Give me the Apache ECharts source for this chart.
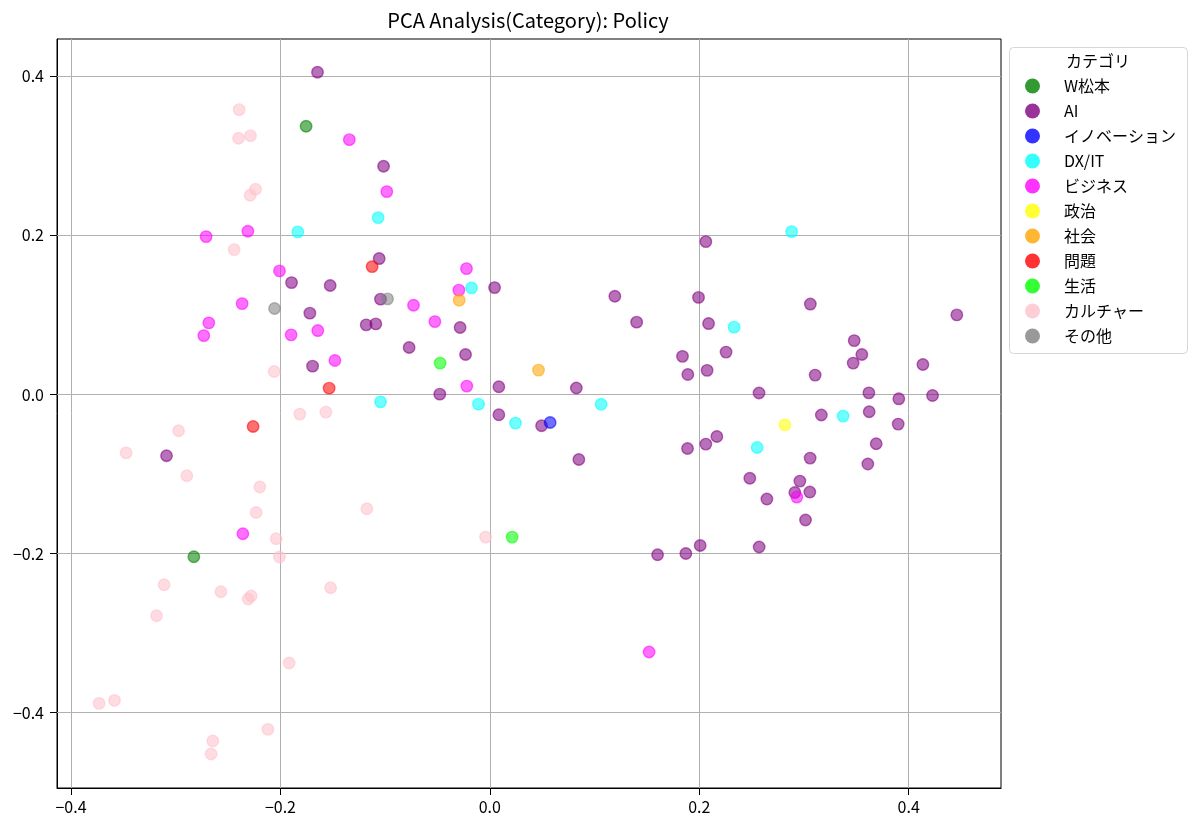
<!DOCTYPE html>
<html>
<head>
<meta charset="utf-8">
<title>PCA Analysis(Category): Policy</title>
<script src="https://cdn.jsdelivr.net/npm/echarts@6/dist/echarts.min.js"></script>
<style>
html, body { margin: 0; padding: 0; background: #fff; }
#chart { width: 1200px; height: 829px; }
</style>
</head>
<body>
<div id="chart"></div>
<script>
var categories = ['W松本', 'AI', 'イノベーション', 'DX/IT', 'ビジネス', '政治', '社会', '問題', '生活', 'カルチャー', 'その他'];
var colors = ['#008000', '#800080', '#0000ff', '#00ffff', '#ff00ff', '#ffff00', '#ffa500', '#ff0000', '#00ff00', '#ffc0cb', '#808080'];

// PC1, PC2 per category
var ptsMatsumoto = [[-0.1755, 0.3372], [-0.2827, -0.2039]];
var ptsAI = [
	[-0.1646, 0.4051], [-0.1894, 0.1407], [-0.1525, 0.1370], [-0.1015, 0.2870], [-0.1057, 0.1709],
	[-0.1719, 0.1023], [-0.1181, 0.0876], [-0.1089, 0.0888], [-0.1693, 0.0357], [-0.3088, -0.0770],
	[-0.1044, 0.1199], [0.0045, 0.1344], [0.1194, 0.1236], [-0.0284, 0.0842], [-0.0771, 0.0591],
	[-0.0232, 0.0503], [0.0086, 0.0097], [-0.0478, 0.0005], [0.0086, -0.0255], [0.0494, -0.0393],
	[0.0826, 0.0082], [0.1402, 0.0910], [0.0850, -0.0817], [0.1602, -0.2014], [0.2063, 0.1922],
	[0.1993, 0.1221], [0.2089, 0.0892], [0.3061, 0.1137], [0.1840, 0.0480], [0.2256, 0.0533],
	[0.1891, 0.0251], [0.2075, 0.0304], [0.2571, 0.0019], [0.4460, 0.1001], [0.3480, 0.0678],
	[0.3553, 0.0503], [0.3470, 0.0395], [0.3107, 0.0244], [0.4136, 0.0377], [0.3620, 0.0021],
	[0.3906, -0.0054], [0.4228, -0.0013], [0.3166, -0.0258], [0.3623, -0.0217], [0.3900, -0.0372],
	[0.3690, -0.0619], [0.1888, -0.0678], [0.2063, -0.0623], [0.2168, -0.0528], [0.3059, -0.0799],
	[0.3610, -0.0874], [0.2483, -0.1053], [0.2961, -0.1088], [0.2913, -0.1231], [0.3056, -0.1226],
	[0.2646, -0.1314], [0.3015, -0.1577], [0.2009, -0.1897], [0.1872, -0.1998], [0.2572, -0.1917]
];
var ptsInnovation = [[0.0576, -0.0352]];
var ptsDX = [
	[-0.1834, 0.2044], [-0.1067, 0.2224], [-0.0175, 0.1341], [-0.1044, -0.0092], [-0.0108, -0.0121],
	[0.0245, -0.0359], [0.1063, -0.0123], [0.2882, 0.2048], [0.2333, 0.0847], [0.3374, -0.0271],
	[0.2553, -0.0666]
];
var ptsBusiness = [
	[-0.1342, 0.3204], [-0.0984, 0.2551], [-0.2710, 0.1985], [-0.2311, 0.2053], [-0.2009, 0.1554],
	[-0.2366, 0.1143], [-0.2684, 0.0901], [-0.2732, 0.0741], [-0.1898, 0.0750], [-0.1643, 0.0804],
	[-0.1480, 0.0427], [-0.0223, 0.1583], [-0.0296, 0.1312], [-0.0729, 0.1123], [-0.0525, 0.0917],
	[-0.0220, 0.0106], [-0.2359, -0.1750], [0.2932, -0.1289], [0.1521, -0.3237]
];
var ptsPolitics = [[0.2818, -0.0381]];
var ptsSociety = [[-0.0293, 0.1186], [0.0465, 0.0307]];
var ptsProblem = [[-0.1124, 0.1608], [-0.1535, 0.0080], [-0.2261, -0.0402]];
var ptsLife = [[-0.0475, 0.0395], [0.0213, -0.1792]];
var ptsCulture = [
	[-0.2394, 0.3581], [-0.2400, 0.3222], [-0.2286, 0.3254], [-0.2238, 0.2581], [-0.2289, 0.2505],
	[-0.2442, 0.1822], [-0.2060, 0.0289], [-0.1815, -0.0246], [-0.1566, -0.0221], [-0.2973, -0.0456],
	[-0.3474, -0.0733], [-0.2894, -0.1021], [-0.2197, -0.1163], [-0.2232, -0.1483], [-0.1175, -0.1436],
	[-0.2041, -0.1813], [-0.2009, -0.2043], [-0.3111, -0.2391], [-0.2569, -0.2479], [-0.2308, -0.2571],
	[-0.2280, -0.2533], [-0.1521, -0.2429], [-0.3183, -0.2781], [-0.1917, -0.3375], [-0.3732, -0.3882],
	[-0.3585, -0.3845], [-0.2120, -0.4209], [-0.2646, -0.4355], [-0.2662, -0.4518], [-0.0041, -0.1792]
];
var ptsOther = [[-0.2056, 0.1081], [-0.0977, 0.1202]];

var pointSets = [ptsMatsumoto, ptsAI, ptsInnovation, ptsDX, ptsBusiness, ptsPolitics, ptsSociety, ptsProblem, ptsLife, ptsCulture, ptsOther];

var xTicks = [-0.4, -0.2, 0.0, 0.2, 0.4];
var yTicks = [-0.4, -0.2, 0.0, 0.2, 0.4];

var FONT = '"Noto Sans CJK JP", "Noto Sans", sans-serif';

function rgba(hex, a){
	var r = parseInt(hex.substr(1, 2), 16);
	var g = parseInt(hex.substr(3, 2), 16);
	var b = parseInt(hex.substr(5, 2), 16);
	return 'rgba(' + r + ',' + g + ',' + b + ',' + a + ')';
}

function tickLabel(v){
	return Number(v).toFixed(1).replace('-', '\u2212');
}

var series = [];

// grid lines at the tick positions
var gridLines = [];
for(var i=0;i<xTicks.length;i++){ gridLines.push({xAxis: xTicks[i]}); }
for(var j=0;j<yTicks.length;j++){ gridLines.push({yAxis: yTicks[j]}); }
series.push({
	name: '_grid',
	type: 'scatter',
	data: [],
	z: 1,
	silent: true,
	markLine: {
		silent: true,
		animation: false,
		symbol: ['none', 'none'],
		label: {show: false},
		lineStyle: {color: '#b0b0b0', width: 1, type: 'solid'},
		emphasis: {disabled: true},
		z: 1,
		data: gridLines
	}
});

for(var k=0;k<categories.length;k++){
	series.push({
		name: categories[k],
		type: 'scatter',
		data: pointSets[k],
		symbol: 'circle',
		symbolSize: 11.5,
		z: 2,
		itemStyle: {
			color: rgba(colors[k], 0.7),
			borderColor: rgba(colors[k], 0.7),
			borderWidth: 1.4
		},
		emphasis: {disabled: true}
	});
}

var legendData = [];
for(var m=0;m<categories.length;m++){
	legendData.push({name: categories[m], itemStyle: {color: colors[m], borderWidth: 0}});
}

var axisCommon = {
	type: 'value',
	axisLine: {show: true, onZero: false, lineStyle: {color: '#000', width: 1}},
	axisTick: {show: true, inside: false, length: 7, lineStyle: {color: '#000', width: 1}},
	splitLine: {show: false},
	axisLabel: {color: '#000', fontSize: 16, fontFamily: FONT, formatter: tickLabel}
};

var myChart = echarts.init(document.getElementById('chart'));

var option = {
	animation: false,
	backgroundColor: '#fff',
	title: {
		text: 'PCA Analysis(Category): Policy',
		left: 523,
		top: 5,
		textAlign: 'center',
		textStyle: {fontSize: 20, fontWeight: 'normal', color: '#000', fontFamily: FONT}
	},
	grid: {
		left: 57, top: 39, width: 944, height: 749,
		show: true, borderColor: '#000', borderWidth: 1, backgroundColor: '#fff',
		containLabel: false
	},
	xAxis: echarts.util.merge({
		min: -0.4134,
		max: 0.4882,
		axisTick: {customValues: xTicks},
		axisLabel: {customValues: xTicks, margin: 11}
	}, axisCommon),
	yAxis: echarts.util.merge({
		min: -0.4946,
		max: 0.4469,
		axisTick: {customValues: yTicks},
		axisLabel: {customValues: yTicks, margin: 13}
	}, axisCommon),
	legend: {
		orient: 'vertical',
		left: 1025,
		top: 78,
		padding: 0,
		icon: 'circle',
		itemWidth: 15,
		itemHeight: 15,
		itemGap: 9,
		selectedMode: false,
		textStyle: {fontSize: 16, color: '#000', fontFamily: FONT, lineHeight: 15, padding: [0, 0, 0, 19]},
		data: legendData
	},
	graphic: [
		{
			type: 'rect',
			z: 0,
			shape: {x: 1009.5, y: 47.5, width: 178, height: 306, r: 4},
			style: {fill: 'rgba(255,255,255,0.8)', stroke: '#d6d6d6', lineWidth: 1}
		},
		{
			type: 'text',
			z: 1,
			x: 1098,
			y: 61,
			style: {text: 'カテゴリ', align: 'center', verticalAlign: 'middle', fill: '#000', font: '16px ' + FONT}
		}
	],
	series: series
};

myChart.setOption(option);
</script>
</body>
</html>
